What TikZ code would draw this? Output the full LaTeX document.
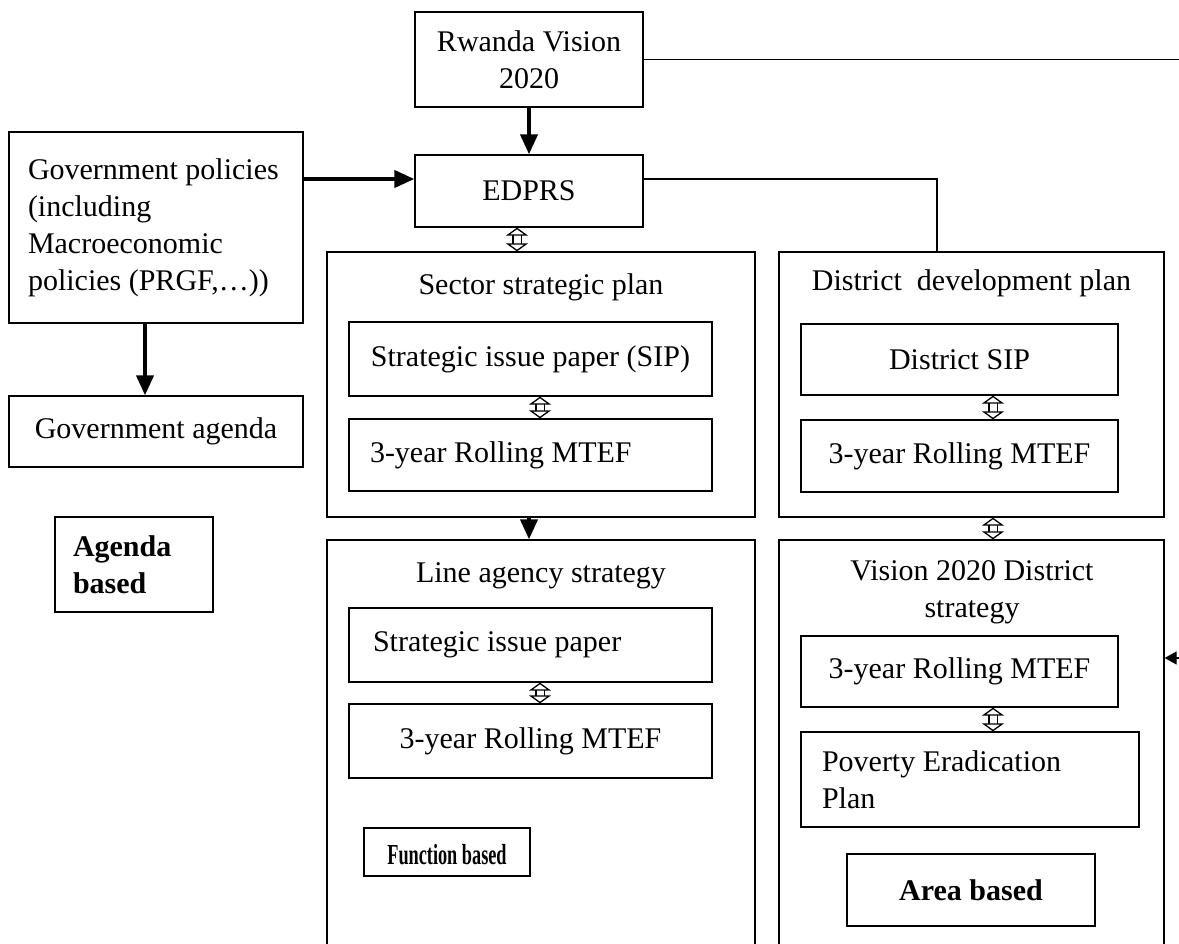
\documentclass[tikz,border=0pt]{standalone}
\usepackage{fontspec}
\setmainfont{Liberation Serif}
\usepackage{graphicx}
\usepackage{tikz}
\usetikzlibrary{arrows.meta,calc}

\begin{document}
\begin{tikzpicture}[x=1pt,y=-1pt,
  font=\fontsize{30}{37}\selectfont,
  box/.style={draw,line width=1.3pt,inner sep=0pt,align=center},
  lbox/.style 2 args={box,align=flush left,inner xsep=#1,text width=#2},
  bigarrow/.style={line width=4pt,-{Triangle[width=17pt,length=20pt]}},
  dblarrow/.style={double,double distance=7pt,line width=1.3pt,{Triangle[open,width=22pt,length=8pt]}-{Triangle[open,width=22pt,length=8pt]}},
  thinline/.style={line width=1.3pt}]
\useasboundingbox (0,0) rectangle (1179,944);
\clip (0,0) rectangle (1179,944);

\node[box,minimum width=228,minimum height=95] (rv) at (529,59.5) {Rwanda Vision\\2020};
\node[box,minimum width=228,minimum height=72] (edprs) at (529,191) {EDPRS};
\node[lbox={19pt}{256pt},minimum height=191] (gov) at (156,227.5) {Government policies\\(including\\Macroeconomic\\policies (PRGF,\dots))};
\node[box,minimum width=294,minimum height=71] (agenda) at (156,431.5) {Government agenda};
\node[lbox={18pt}{122pt},minimum height=95,font=\fontsize{30}{37}\selectfont\bfseries] (agbased) at (134,564.5) {Agenda\\based};

\node[box,minimum width=428,minimum height=265] (sector) at (541,384.5) {};
\node (sectitle) at (541,287) {Sector strategic plan};
\node[box,minimum width=363,minimum height=74] (ssip) at (530.5,359) {Strategic issue paper (SIP)};
\node[lbox={21pt}{321pt},minimum height=72] (smtef) at (530.5,455) {3-year Rolling MTEF};

\node[box,minimum width=428,minimum height=460] (line) at (541,770) {};
\node (linetitle) at (541,576) {Line agency strategy};
\node[lbox={24pt}{315pt},minimum height=74] (lsip) at (530.5,645) {Strategic issue paper};
\node[box,minimum width=363,minimum height=74] (lmtef) at (530.5,741) {3-year Rolling MTEF};
\node[box,minimum width=166,minimum height=48,text height=24pt,text depth=0pt,font=\fontsize{29}{34}\selectfont\bfseries] (func) at (447,852) {\scalebox{0.63}[1]{Function based}};

\node[box,minimum width=385,minimum height=265] (district) at (971.5,384.5) {};
\node (disttitle) at (971.5,283) {District~~development plan};
\node[box,minimum width=317,minimum height=71] (dsip) at (959.5,359.5) {District SIP};
\node[box,minimum width=317,minimum height=72] (dmtef) at (959.5,456) {3-year Rolling MTEF};

\node[box,minimum width=385,minimum height=460] (vdist) at (971.5,770) {};
\node[align=center] (vtitle) at (972,592) {Vision 2020 District\\strategy};
\node[box,minimum width=317,minimum height=71] (vmtef) at (959.5,671.5) {3-year Rolling MTEF};
\node[lbox={21pt}{296pt},minimum height=95] (pov) at (970,779.5) {Poverty Eradication\\Plan};
\node[box,minimum width=248,minimum height=72,font=\fontsize{30}{37}\selectfont\bfseries] (area) at (971,890) {Area based};

\coordinate (e1) at ([yshift=12pt]edprs.west);
\coordinate (e2) at ([yshift=12pt]edprs.east);
\coordinate (out1) at (1179,59.5);
\coordinate (out2) at (1179,658);

\draw[bigarrow] (rv.south) -- (edprs.north);
\draw[bigarrow] (gov.east |- e1) -- (e1);
\draw[bigarrow] ([xshift=-11pt]gov.south) -- ([xshift=-11pt]agenda.north);
\draw[bigarrow] ([xshift=-12pt]sector.south) -- ([xshift=-12pt]line.north);
\draw[thinline] (rv.east) -- (out1);
\draw[thinline] (e2) -| ([xshift=-34.5pt]district.north);
\draw[thinline,-{Triangle[width=13pt,length=12pt]}] (out2) -- (vdist.east |- out2);

\draw[dblarrow] ([xshift=-12pt]edprs.south) -- ([xshift=-24pt]sector.north);
\draw[dblarrow] ([xshift=9.5pt]ssip.south) -- ([xshift=9.5pt]smtef.north);
\draw[dblarrow] ([xshift=9.5pt]lsip.south) -- ([xshift=9.5pt]lmtef.north);
\draw[dblarrow] ([xshift=33.5pt]dsip.south) -- ([xshift=33.5pt]dmtef.north);
\draw[dblarrow] ([xshift=21.5pt]district.south) -- ([xshift=21.5pt]vdist.north);
\draw[dblarrow] ([xshift=33.5pt]vmtef.south) -- ([xshift=23pt]pov.north);
\end{tikzpicture}
\end{document}
